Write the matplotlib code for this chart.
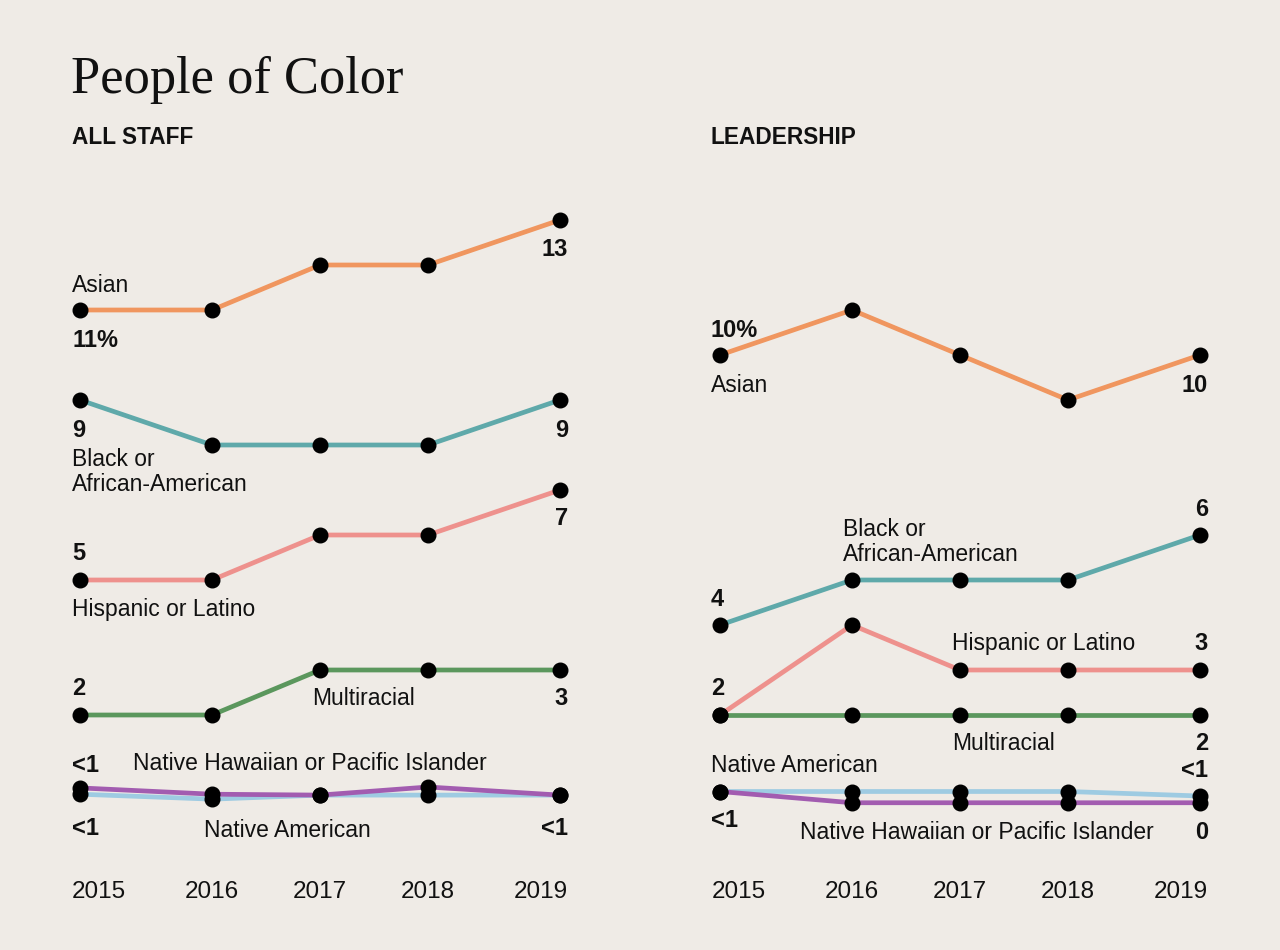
import matplotlib
matplotlib.use('Agg')
import matplotlib.pyplot as plt

years = [2015, 2016, 2017, 2018, 2019]
# horizontal slots of the years (the graphic spaces them unevenly)
slots = [0, 1.1, 2, 2.9, 4]

# percentages (<1 values are approximate)
staff = {
    'Asian': [11, 11, 12, 12, 13],
    'Black': [9, 8, 8, 8, 9],
    'Hispanic': [5, 5, 6, 6, 7],
    'Multiracial': [2, 2, 3, 3, 3],
    'NHPI': [0.38, 0.24, 0.22, 0.4, 0.22],
    'NativeAm': [0.24, 0.13, 0.22, 0.22, 0.22],
}
leaders = {
    'Asian': [10, 11, 10, 9, 10],
    'Black': [4, 5, 5, 5, 6],
    'Hispanic': [2, 4, 3, 3, 3],
    'Multiracial': [2, 2, 2, 2, 2],
    'NativeAm': [0.3, 0.3, 0.3, 0.3, 0.2],
    'NHPI': [0.3, 0.05, 0.05, 0.05, 0.05],
}
colors = {
    'Asian': '#f0965f',
    'Black': '#5fa9aa',
    'Hispanic': '#ee918d',
    'Multiracial': '#5b975d',
    'NHPI': '#a25cb0',
    'NativeAm': '#9ecbe2',
}
order = ['NativeAm', 'NHPI', 'Multiracial', 'Hispanic', 'Black', 'Asian']

bg = '#efebe6'
W, H = 1280, 950
fig = plt.figure(figsize=(12.8, 9.5), dpi=100, facecolor=bg)

SANS = ['Liberation Sans', 'DejaVu Sans']
SERIF = ['Liberation Serif', 'DejaVu Serif']
LBL = 16.5

def txt(x, y, s, size=LBL, weight='normal', ha='left', family=SANS, va='center'):
    fig.text(x / W, 1 - (y + 1.5) / H, s, fontsize=size, fontweight=weight, ha=ha,
             va=va, family=family, color='#111111')

def num(x, y, s, ha='left'):
    txt(x, y, s, size=17, weight='semibold', ha=ha)

def panel(left_px, data):
    # value 0 at y=805 px, 45 px per point
    ax = fig.add_axes([left_px / W, (H - 805) / H, 480 / W, 585 / H])
    ax.set_xlim(0, 4)
    ax.set_ylim(0, 13)
    ax.axis('off')
    for k in order:
        ax.plot(slots, data[k], color=colors[k], lw=3.4, solid_capstyle='butt',
                zorder=2, clip_on=False)
    for k in order:
        ax.plot(slots, data[k], 'o', color='black', ms=10.5, zorder=3, clip_on=False)
    return ax

panel(80, staff)
panel(720, leaders)

# titles
txt(71, 78, 'People of Color', size=37.8, family=SERIF)
txt(72, 136, 'ALL STAFF', size=16.3, weight='bold')
txt(711, 136, 'LEADERSHIP', size=16.3, weight='bold')

# left panel labels
txt(72, 284, 'Asian')
num(72, 339, '11%')
num(568, 248, '13', ha='right')
num(72, 429, '9')
txt(72, 458, 'Black or')
txt(72, 483, 'African-American')
num(568, 429, '9', ha='right')
num(72, 552, '5')
num(568, 517, '7', ha='right')
txt(72, 608, 'Hispanic or Latino')
num(72, 687, '2')
txt(312, 697, 'Multiracial')
num(568, 697, '3', ha='right')
num(72, 764, '<1')
txt(133, 762, 'Native Hawaiian or Pacific Islander')
num(72, 827, '<1')
txt(204, 829, 'Native American')
num(568, 827, '<1', ha='right')

# right panel labels
num(711, 329, '10%')
txt(711, 384, 'Asian')
num(1208, 384, '10', ha='right')
txt(843, 528, 'Black or')
txt(843, 553, 'African-American')
num(1208, 508, '6', ha='right')
num(711, 598, '4')
txt(952, 642, 'Hispanic or Latino')
num(1208, 642, '3', ha='right')
num(711, 687, '2')
txt(952, 742, 'Multiracial')
num(1208, 742, '2', ha='right')
txt(711, 764, 'Native American')
num(1208, 769, '<1', ha='right')
num(711, 819, '<1')
txt(800, 831, 'Native Hawaiian or Pacific Islander')
num(1208, 831, '0', ha='right')

# year labels
for off in (80, 720):
    for i, yr in enumerate(years):
        x, ha = off + 120 * slots[i], 'center'
        if i == 0:
            x, ha = off - 8, 'left'
        elif i == len(years) - 1:
            x, ha = off + 488, 'right'
        txt(x, 890, str(yr), size=17.5, ha=ha)

fig.savefig('out.png', dpi=100, facecolor=bg)
